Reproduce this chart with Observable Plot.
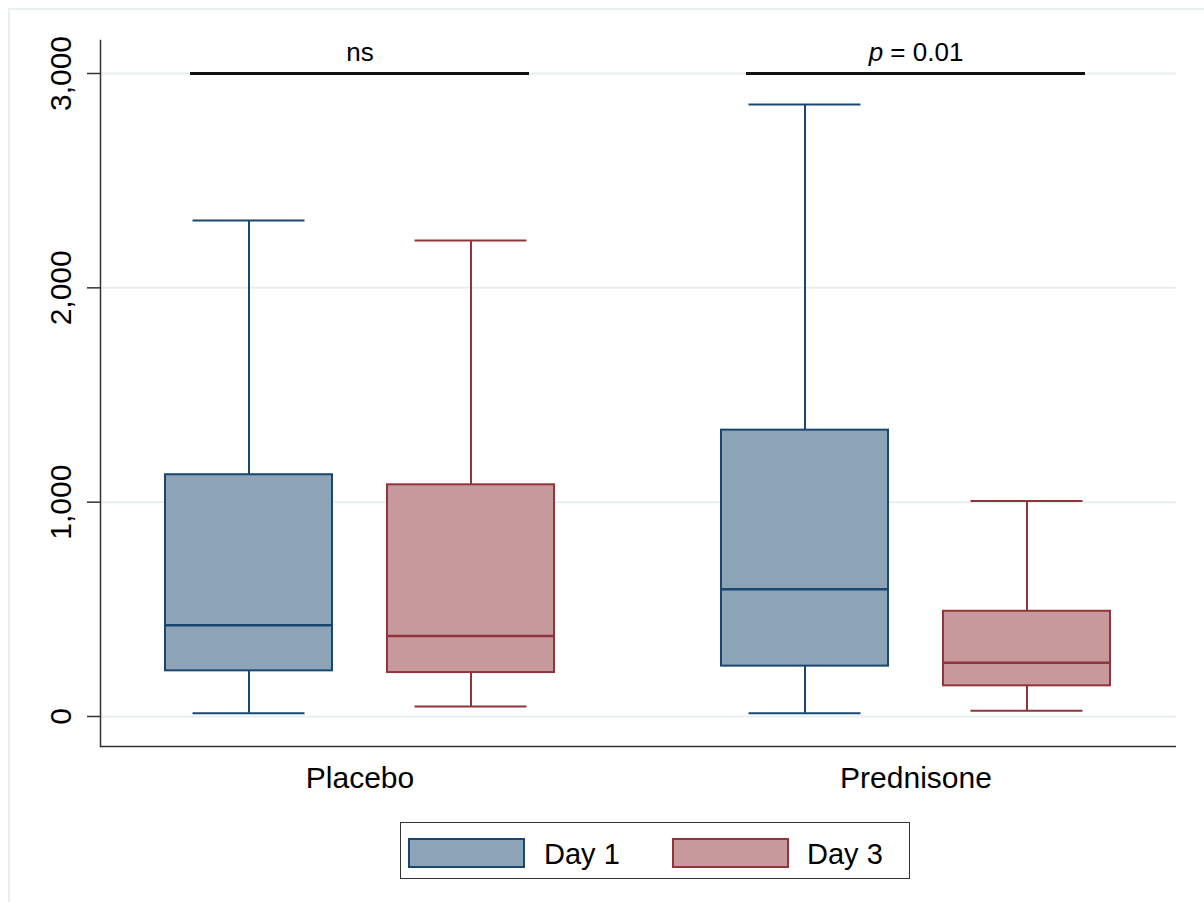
<!DOCTYPE html>
<html>
<head>
<meta charset="utf-8">
<script src="https://cdn.jsdelivr.net/npm/d3@7"></script>
<script src="https://cdn.jsdelivr.net/npm/@observablehq/plot@0.6"></script>
<style>
  html, body { margin: 0; padding: 0; background: #fff; overflow: hidden; }
  body { width: 1204px; height: 902px; position: relative; font-family: "Liberation Sans", Arial, sans-serif; }
  #outline { position: absolute; left: 8px; top: 8px; width: 1400px; height: 1100px;
             border-left: 2px solid #e8eff1; border-top: 2px solid #e8eff1; }
  #chart { position: absolute; left: 0; top: 0; }
  #legend { position: absolute; left: 400px; top: 822px; width: 508px; height: 55px;
            border: 1.5px solid #333; background: #fff; }
  #legend .sw { position: absolute; top: 14.5px; width: 113px; height: 26px; border: 2px solid; }
  #legend .lb { position: absolute; top: 4px; line-height: 55px; font-size: 29px; color: #000; }
</style>
</head>
<body>
<div id="outline"></div>
<div id="chart"></div>
<div id="legend"></div>
<script>
// Treatment groups, measurement days and the five-number summaries for each box
const groupOrder = ["Placebo", "Prednisone"];
const dayOrder = ["Day 1", "Day 3"];
const groups = ["Placebo", "Placebo", "Prednisone", "Prednisone"];
const days = ["Day 1", "Day 3", "Day 1", "Day 3"];
const lowWhisker = [15, 47, 15, 27];
const q1 = [213, 205, 235, 143];
const median = [426, 375, 594, 251];
const q3 = [1128, 1081, 1336, 491];
const highWhisker = [2314, 2221, 2855, 1006];

// Significance annotations above each group
const sigGroups = ["Placebo", "Prednisone"];
const sigLabels = ["ns", "p = 0.01"];
const sigLevel = 3000;

// Axis ticks and value range
const yTicks = [0, 1000, 2000, 3000];
const yDomain = [-140, 3154];

// Series colours (fill, outline) per day
const dayFill = ["#8da3b8", "#c8999c"];
const dayStroke = ["#1a476f", "#90353b"];

const stats = groups.map((g, i) => ({
  group: g, day: days[i],
  lo: lowWhisker[i], q1: q1[i], med: median[i], q3: q3[i], hi: highWhisker[i],
  fill: dayFill[dayOrder.indexOf(days[i])],
  stroke: dayStroke[dayOrder.indexOf(days[i])]
}));
const sig = sigGroups.map((g, i) => ({group: g, label: sigLabels[i], y: sigLevel, a: dayOrder[0], b: dayOrder[dayOrder.length - 1]}));

const axisColor = "#333";
const gridColor = "#e8eff1";

// facet layout: inner padding between the two groups, none outside
const fxPadInner = 0.0664;
const plotWidth = 1204, marginLeft = 99, marginRight = 28;
const fxStep = (plotWidth - marginLeft - marginRight) / (groupOrder.length - fxPadInner);

// horizontal rules drawn from the first facet and carried on to the right edge
// of the last one, so each is a single continuous line across the plot
function spanningRule(values, opts) {
  return Plot.ruleY(values.map(v => ({group: groupOrder[0], v})), {
    fx: "group", y: "v", ...opts,
    insetRight: -fxStep * (groupOrder.length - 1)
  });
}

const chart = Plot.plot({
  width: plotWidth,
  height: 810,
  marginLeft,
  marginRight,
  marginTop: 40,
  marginBottom: 64,
  style: {fontFamily: "'Liberation Sans', Arial, sans-serif", fontSize: "30px", color: "#000", background: "transparent", overflow: "visible"},
  fx: {domain: groupOrder, paddingInner: fxPadInner, paddingOuter: 0, label: null},
  x: {domain: dayOrder, paddingInner: 0.2494, paddingOuter: 0.2933, axis: null},
  y: {domain: yDomain, label: null},
  marks: [
    // horizontal grid across the whole plot region
    spanningRule(yTicks, {stroke: gridColor, strokeWidth: 2}),
    // axes
    Plot.axisY(yTicks, {anchor: "left", tickFormat: d3.format(","), tickRotate: -90, tickSize: 13, tickPadding: 17,
                        fontSize: 30, stroke: axisColor, strokeWidth: 1.5, label: null}),
    Plot.axisFx({anchor: "bottom", tickSize: 0, tickPadding: 20, fontSize: 30, label: null}),
    Plot.frame({anchor: "left", facetAnchor: "left", stroke: axisColor, strokeWidth: 1.5}),
    spanningRule([yDomain[0]], {stroke: axisColor, strokeWidth: 1.5}),
    // whiskers
    Plot.ruleX(stats, {fx: "group", x: "day", y1: "lo", y2: "q1", stroke: "stroke", strokeWidth: 2}),
    Plot.ruleX(stats, {fx: "group", x: "day", y1: "q3", y2: "hi", stroke: "stroke", strokeWidth: 2}),
    Plot.tickY(stats, {fx: "group", x: "day", y: "lo", stroke: "stroke", strokeWidth: 2, insetLeft: 27.5, insetRight: 27.5}),
    Plot.tickY(stats, {fx: "group", x: "day", y: "hi", stroke: "stroke", strokeWidth: 2, insetLeft: 27.5, insetRight: 27.5}),
    // interquartile boxes and medians
    Plot.barY(stats, {fx: "group", x: "day", y1: "q1", y2: "q3", fill: "fill", stroke: "stroke", strokeWidth: 2}),
    Plot.tickY(stats, {fx: "group", x: "day", y: "med", stroke: "stroke", strokeWidth: 2.5}),
    // significance bars and labels
    Plot.ruleY(sig, {fx: "group", y: "y", x1: "a", x2: "b", stroke: "#111", strokeWidth: 3, insetLeft: 25, insetRight: 25}),
    Plot.text(sig, {fx: "group", y: "y", text: "label", dy: -21, fontSize: 26, fill: "#000"})
  ]
});

// italic p in the p-value label
chart.querySelectorAll("text").forEach(t => {
  if (t.children.length === 0 && t.textContent.startsWith("p = ")) {
    const rest = t.textContent.slice(1);
    t.textContent = "";
    const it = document.createElementNS("http://www.w3.org/2000/svg", "tspan");
    it.setAttribute("font-style", "italic");
    it.textContent = "p";
    t.appendChild(it);
    t.appendChild(document.createTextNode(rest));
  }
});
document.getElementById("chart").appendChild(chart);

// legend below the plot
const legend = document.getElementById("legend");
const swLeft = [7, 271];
const lbLeft = [143, 406];
dayOrder.forEach((d, i) => {
  const sw = document.createElement("div");
  sw.className = "sw";
  sw.style.left = swLeft[i] + "px";
  sw.style.background = dayFill[i];
  sw.style.borderColor = dayStroke[i];
  legend.appendChild(sw);
  const lb = document.createElement("div");
  lb.className = "lb";
  lb.style.left = lbLeft[i] + "px";
  lb.textContent = d;
  legend.appendChild(lb);
});
</script>
</body>
</html>
